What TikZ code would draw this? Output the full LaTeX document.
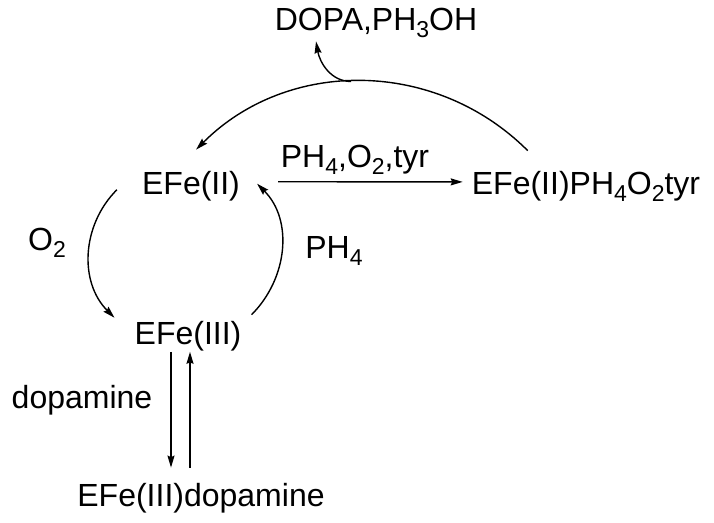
\documentclass[tikz,border=0pt]{standalone}
\usepackage{fontspec}
\setmainfont{Liberation Sans}
\usetikzlibrary{arrows.meta}
\tikzset{
  species/.style={
    inner sep=0pt,
    anchor=base,
    font=\fontsize{32}{38}\selectfont
  },
  rxn-arrow/.style={
    line width=1.4pt,
    -{Stealth[length=12pt,width=7pt,inset=1.5pt]}
  }
}
\newcommand{\chemsub}[1]{\raisebox{-7pt}{\fontsize{23}{26}\selectfont #1}}

\begin{document}
\begin{tikzpicture}[x=1pt,y=-1pt]
  \useasboundingbox (0,0) rectangle (714,522);

  % species and reagents
  \node[species] (dopa)  at (376,30)  {DOPA,PH\chemsub{3}OH};
  \node[species] (fe2)   at (191,194) {EFe(II)};
  \node[species] (cond)  at (355,167) {PH\chemsub{4},O\chemsub{2},tyr};
  \node[species] (fe2o)  at (586,194) {EFe(II)PH\chemsub{4}O\chemsub{2}tyr};
  \node[species] (o2)    at (47,250)  {O\chemsub{2}};
  \node[species] (ph4)   at (334,258) {PH\chemsub{4}};
  \node[species] (fe3)   at (188,344) {EFe(III)};
  \node[species] (dopam) at (82,408)  {dopamine};
  \node[species] (fe3d)  at (201,506) {EFe(III)dopamine};

  % cycle
  \draw[rxn-arrow, shorten <=38pt, shorten >=9pt]
    ([yshift=4pt]fe2.east) -- ([yshift=4pt]fe2o.west);
  \draw[rxn-arrow] ([xshift=56pt,yshift=20pt]fe2o.north west)
    to[out=135,in=45] coordinate[pos=0.53] (split)
    ([xshift=-44pt,yshift=21pt]fe2.north east);
  \draw[rxn-arrow] (split) to[out=180,in=-80] ([xshift=-60pt,yshift=-4pt]dopa.south);
  \draw[rxn-arrow] ([xshift=-25pt,yshift=-4pt]fe2.west)
    to[out=225,in=135] ([xshift=-20pt,yshift=18pt]fe3.west);
  \draw[rxn-arrow] ([xshift=10pt,yshift=21pt]fe3.east)
    to[out=45,in=-45] ([xshift=17pt,yshift=2pt]fe2.east);

  % dopamine binding
  \draw[rxn-arrow, shorten <=1pt, shorten >=15pt]
    ([xshift=-17pt]fe3.south) -- ([xshift=-30pt]fe3d.north);
  \draw[rxn-arrow, shorten <=15pt, shorten >=1pt]
    ([xshift=-11pt]fe3d.north) -- ([xshift=2pt]fe3.south);
\end{tikzpicture}
\end{document}
